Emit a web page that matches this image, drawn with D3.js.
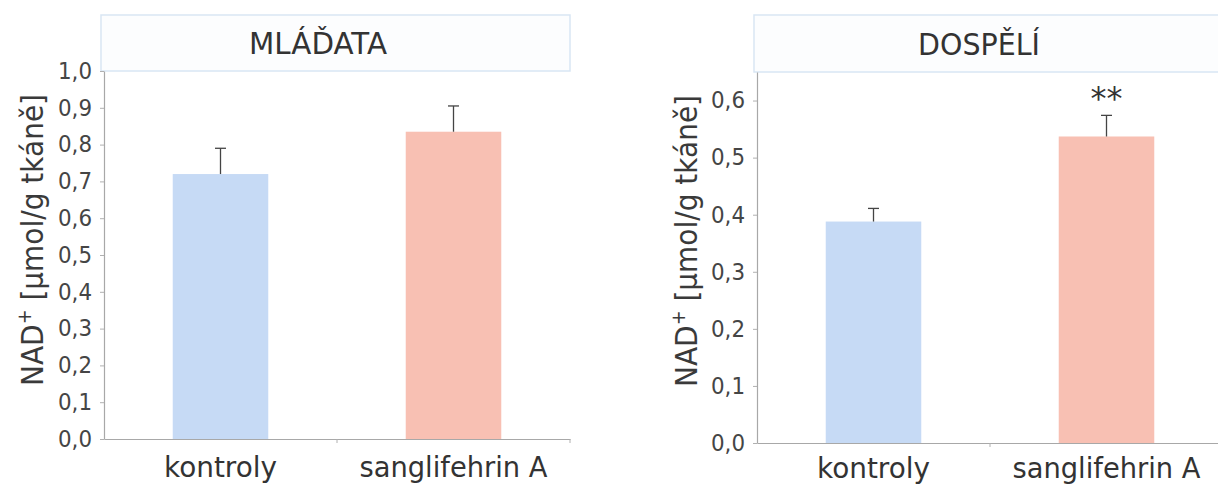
<!DOCTYPE html>
<html>
<head>
<meta charset="utf-8">
<script src="https://cdn.jsdelivr.net/npm/d3@7"></script>
<style>
  html, body { margin: 0; padding: 0; background: #fff; }
  svg { display: block; font-family: "DejaVu Sans", Verdana, sans-serif; }
</style>
</head>
<body>
<svg id="chart" width="1218" height="487"></svg>
<script>
// NAD+ content in tissue, young vs adult animals, control vs sanglifehrin A
const categories = ["kontroly", "sanglifehrin A"];
const panelTitles = ["MLÁĎATA", "DOSPĚLÍ"];

const youngMeans = [0.72, 0.835];
const youngErrors = [0.07, 0.07];
const adultMeans = [0.388, 0.537];
const adultErrors = [0.023, 0.037];

const youngTicks = [0, 0.1, 0.2, 0.3, 0.4, 0.5, 0.6, 0.7, 0.8, 0.9, 1.0];
const adultTicks = [0, 0.1, 0.2, 0.3, 0.4, 0.5, 0.6];
const adultSignificance = ["", "**"];

const barColors = ["#c6daf5", "#f8c0b3"];
const yLabel = "NAD";

const svg = d3.select("#chart");
const fmt = v => d3.format(".1f")(v).replace(".", ",");

// narrow, tall lettering: fix the drawn length of each string
const catLengths = { "kontroly": 113, "sanglifehrin A": 188 };

function drawPanel(opts) {
  const { means, errors, ticks, yMax, xRange, yRange, title, titleX, titleLen, labelX, labelY, catPad, marks } = opts;

  const x = d3.scaleBand()
    .domain(categories)
    .range(xRange)
    .paddingInner(0.59)
    .paddingOuter(0.295);

  const y = d3.scaleLinear()
    .domain([0, yMax])
    .range(yRange);

  const g = svg.append("g");

  // Title box across the top of the plot
  g.append("rect")
    .attr("x", xRange[0] - 3)
    .attr("y", 15)
    .attr("width", xRange[1] - xRange[0] + 3)
    .attr("height", y(yMax) - 15)
    .attr("fill", "#fcfdfe")
    .attr("stroke", "#d9e6f4")
    .attr("stroke-width", 1.5);

  g.append("text")
    .attr("x", titleX)
    .attr("y", (15 + y(yMax)) / 2 + 11)
    .attr("text-anchor", "middle")
    .attr("font-size", 30)
    .attr("textLength", titleLen)
    .attr("lengthAdjust", "spacingAndGlyphs")
    .attr("fill", "#333")
    .text(title);

  // Bars
  g.selectAll("rect.bar")
    .data(categories)
    .join("rect")
    .attr("class", "bar")
    .attr("x", d => x(d))
    .attr("width", x.bandwidth())
    .attr("y", (d, i) => y(means[i]))
    .attr("height", (d, i) => y(0) - y(means[i]))
    .attr("fill", (d, i) => barColors[i]);

  // Upper error bars
  const cap = 5.5;
  const eb = g.selectAll("g.err")
    .data(categories)
    .join("g")
    .attr("class", "err")
    .attr("stroke", "#444")
    .attr("stroke-width", 1.3);
  eb.append("line")
    .attr("x1", d => x(d) + x.bandwidth() / 2)
    .attr("x2", d => x(d) + x.bandwidth() / 2)
    .attr("y1", (d, i) => y(means[i]))
    .attr("y2", (d, i) => y(means[i] + errors[i]));
  eb.append("line")
    .attr("x1", d => x(d) + x.bandwidth() / 2 - cap)
    .attr("x2", d => x(d) + x.bandwidth() / 2 + cap)
    .attr("y1", (d, i) => y(means[i] + errors[i]))
    .attr("y2", (d, i) => y(means[i] + errors[i]));

  // Significance marks
  if (marks) {
    g.selectAll("text.sig")
      .data(categories)
      .join("text")
      .attr("class", "sig")
      .attr("x", d => x(d) + x.bandwidth() / 2)
      .attr("y", (d, i) => y(means[i] + errors[i]) - 6)
      .attr("text-anchor", "middle")
      .attr("font-size", 32)
      .attr("fill", "#333")
      .text((d, i) => marks[i]);
  }

  // Y axis
  const yAxis = g.append("g")
    .attr("transform", `translate(${xRange[0]},0)`)
    .call(d3.axisLeft(y).tickValues(ticks).tickFormat(fmt).tickSize(4).tickSizeOuter(0).tickPadding(8));
  yAxis.select(".domain").attr("stroke", "#a8a8a8").attr("stroke-width", 1.2);
  yAxis.selectAll(".tick line").attr("stroke", "#b0b0b0");
  yAxis.selectAll(".tick text")
    .attr("font-size", 23)
    .attr("font-family", "DejaVu Sans, sans-serif")
    .attr("textLength", 34)
    .attr("lengthAdjust", "spacingAndGlyphs")
    .attr("fill", "#454545");

  // X axis with category labels
  const xAxis = g.append("g")
    .attr("transform", `translate(0,${y(0)})`)
    .call(d3.axisBottom(x).tickSize(0).tickPadding(catPad).tickSizeOuter(0));
  xAxis.select(".domain").attr("stroke", "#a8a8a8").attr("stroke-width", 1.2);
  xAxis.selectAll(".tick text")
    .attr("font-size", 29)
    .attr("font-family", "DejaVu Sans, sans-serif")
    .attr("textLength", d => catLengths[d])
    .attr("lengthAdjust", "spacingAndGlyphs")
    .attr("fill", "#333");

  // Small separators between categories on the x axis
  const step = x.step();
  const bounds = d3.range(categories.length + 1).map(i => xRange[0] + i * step);
  g.selectAll("line.sep")
    .data(bounds.slice(1))
    .join("line")
    .attr("class", "sep")
    .attr("x1", d => d).attr("x2", d => d)
    .attr("y1", y(0)).attr("y2", y(0) + 4)
    .attr("stroke", "#b0b0b0");

  // Rotated y-axis label
  const lbl = g.append("text")
    .attr("transform", `translate(${labelX},${labelY}) rotate(-90)`)
    .attr("text-anchor", "middle")
    .attr("font-size", 30)
    .attr("textLength", 292)
    .attr("lengthAdjust", "spacingAndGlyphs")
    .attr("fill", "#3a3a3a");
  lbl.append("tspan").text(yLabel);
  lbl.append("tspan").attr("font-size", 19).attr("dy", -12).text("+");
  lbl.append("tspan").attr("dy", 12).text(" [µmol/g tkáně]");
}

drawPanel({
  means: youngMeans, errors: youngErrors, ticks: youngTicks, yMax: 1.0,
  xRange: [104, 570], yRange: [439, 71],
  title: panelTitles[0], titleX: 318, titleLen: 138, labelX: 43, labelY: 240, catPad: 17
});

drawPanel({
  means: adultMeans, errors: adultErrors, ticks: adultTicks, yMax: 0.65,
  xRange: [757, 1223], yRange: [443, 72],
  title: panelTitles[1], titleX: 979, titleLen: 122, labelX: 697, labelY: 241, catPad: 14, marks: adultSignificance
});
</script>
</body>
</html>
